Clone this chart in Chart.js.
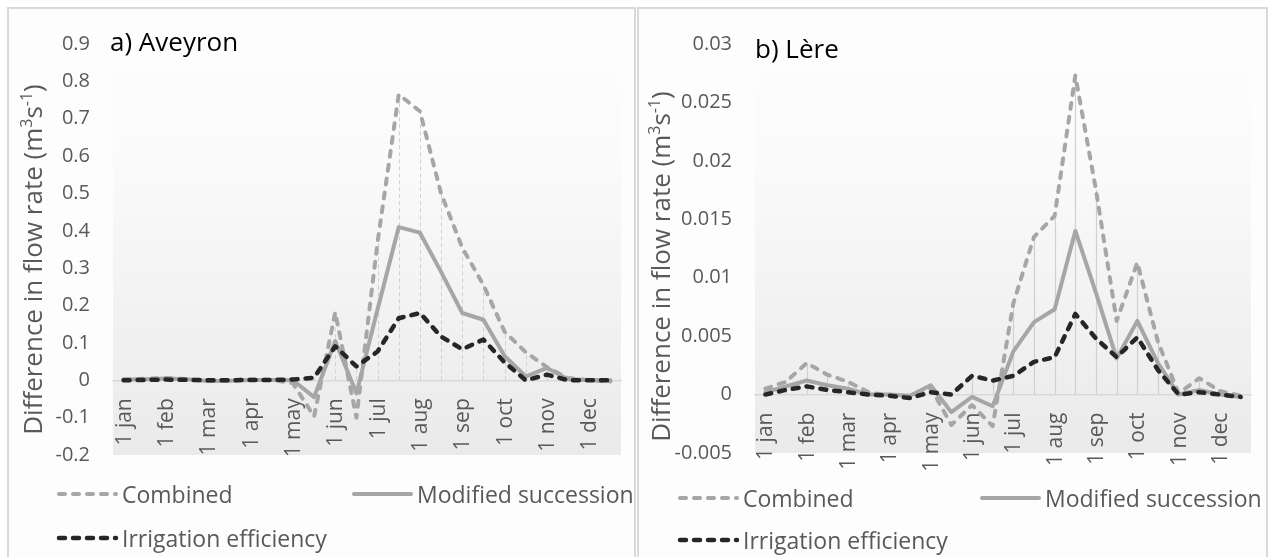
<!DOCTYPE html>
<html>
<head>
<meta charset="utf-8">
<script src="https://cdn.jsdelivr.net/npm/chart.js@4.4.0/dist/chart.umd.min.js"></script>
<style>
  body { margin: 0; background: #fff; width: 1268px; height: 557px; overflow: hidden; font-family: 'Open Sans', sans-serif; }
  .panel { position: absolute; top: 7px; height: 560px; border: 2px solid #d9d9d9; background: #fdfdfd; box-sizing: border-box; }
  #pa { left: 7px; width: 629px; }
  #pb { left: 637px; width: 631px; }
  canvas { position: absolute; left: 0; top: 0; }
  .legend { position: absolute; display: grid; font-size: 23px; color: #595959; }
  .item { display: flex; align-items: center; white-space: nowrap; }
  .item svg { margin-right: 2px; }
</style>
</head>
<body>
<div class="panel" id="pa">
  <canvas id="chartA" width="625" height="548"></canvas>
  <div class="legend" id="legA" style="left:47px; top:463px; grid-template-columns:295px auto; grid-auto-rows:44px;"></div>
</div>
<div class="panel" id="pb">
  <canvas id="chartB" width="627" height="548"></canvas>
  <div class="legend" id="legB" style="left:38px; top:468px; grid-template-columns:302px auto; grid-auto-rows:42px;"></div>
</div>
<script>
// categories: 1st and 15th of each month
const dates = ['1 jan', '15 jan', '1 feb', '15 feb', '1 mar', '15 mar', '1 apr', '15 apr',
  '1 may', '15 may', '1 jun', '15 jun', '1 jul', '15 jul', '1 aug', '15 aug',
  '1 sep', '15 sep', '1 oct', '15 oct', '1 nov', '15 nov', '1 dec', '15 dec'];

const seriesNames = ['Combined', 'Modified succession', 'Irrigation efficiency'];

// a) Aveyron
const aveyronCombined = [0.002, 0.004, 0.006, 0.003, -0.002, 0.0, 0.002, 0.001, -0.008, -0.097, 0.182, -0.1,
  0.37, 0.765, 0.72, 0.5, 0.355, 0.255, 0.13, 0.075, 0.035, 0.006, 0.0, -0.003];
const aveyronModified = [0.002, 0.003, 0.005, 0.003, -0.002, -0.001, 0.001, 0.001, 0.0, -0.045, 0.105, -0.035,
  0.19, 0.41, 0.395, 0.29, 0.18, 0.162, 0.065, 0.01, 0.033, 0.003, 0.001, 0.0];
const aveyronIrrigation = [0.0, 0.001, 0.002, 0.001, 0.0, 0.0, 0.001, 0.001, 0.002, 0.007, 0.091, 0.037,
  0.077, 0.166, 0.18, 0.117, 0.083, 0.109, 0.048, 0.0, 0.015, 0.0, 0.0, 0.0];
const aveyronTicks = { min: -0.2, max: 0.9, step: 0.1 };

// b) Lère
const lereCombined = [0.0005, 0.0011, 0.0027, 0.0017, 0.0011, 0.0002, -0.0001, -0.0003, 0.0006, -0.0026, -0.0009, -0.0027,
  0.0078, 0.0135, 0.0153, 0.0273, 0.0175, 0.0063, 0.0113, 0.0045, 0.0001, 0.0014, 0.0003, -0.0001];
const lereModified = [0.0002, 0.0007, 0.0012, 0.0008, 0.0005, 0.0, 0.0, -0.0001, 0.0008, -0.0015, -0.0002, -0.001,
  0.0037, 0.0062, 0.0073, 0.014, 0.0087, 0.0031, 0.0063, 0.0027, 0.0, 0.0004, 0.0, -0.0002];
const lereIrrigation = [0.0, 0.0004, 0.0007, 0.0004, 0.0002, 0.0, -0.0001, -0.0003, 0.0002, 0.0, 0.0016, 0.0012,
  0.0016, 0.0028, 0.0032, 0.0069, 0.0048, 0.0032, 0.0049, 0.0021, 0.0, 0.0002, 0.0, -0.0002];
const lereTicks = { min: -0.005, max: 0.03, step: 0.005 };

Chart.defaults.font.family = "'Open Sans', sans-serif";
Chart.defaults.color = '#595959';

// gradient fill of the plot area
const plotBg = {
  id: 'plotBg',
  beforeDraw(chart) {
    const { ctx, chartArea: a } = chart;
    const g = ctx.createLinearGradient(0, a.top, 0, a.bottom);
    g.addColorStop(0, '#fdfdfd');
    g.addColorStop(0.3, '#fafafa');
    g.addColorStop(1, '#eaeaea');
    ctx.save();
    ctx.fillStyle = g;
    ctx.fillRect(a.left, a.top, a.right - a.left, a.bottom - a.top);
    ctx.restore();
  }
};

// drop lines from the highest point down to zero, and the vertical month labels
const dropLines = {
  id: 'dropLines',
  beforeDatasetsDraw(chart, args, opts) {
    const { ctx } = chart;
    const xs = chart.scales.x, ys = chart.scales.y;
    const y0 = ys.getPixelForValue(0);
    ctx.save();
    ctx.strokeStyle = opts.color;
    ctx.lineWidth = opts.width;
    ctx.setLineDash(opts.dash);
    chart.data.labels.forEach((lab, i) => {
      const top = Math.max(...chart.data.datasets.map(d => d.data[i]));
      if (top <= 0) return;
      const px = Math.round(xs.getPixelForValue(i)) + 0.5;
      ctx.beginPath();
      ctx.moveTo(px, y0);
      ctx.lineTo(px, ys.getPixelForValue(top));
      ctx.stroke();
    });
    ctx.restore();

    // category labels, rotated to read bottom-to-top, hanging under the zero line
    ctx.save();
    ctx.fillStyle = '#595959';
    ctx.font = '21px "Open Sans"';
    ctx.textAlign = 'right';
    ctx.textBaseline = 'middle';
    chart.data.labels.forEach((lab, i) => {
      if (!lab.startsWith('1 ')) return;
      ctx.save();
      ctx.translate(xs.getPixelForValue(i), y0 + 18);
      ctx.rotate(-Math.PI / 2);
      ctx.fillText(lab, 0, 1);
      ctx.restore();
    });
    ctx.restore();
  }
};

// panel title and y axis title with superscripts
const texts = {
  id: 'texts',
  afterDraw(chart, args, opts) {
    const { ctx, chartArea: a } = chart;
    ctx.save();
    ctx.fillStyle = '#000';
    ctx.font = opts.titleSize + 'px "Open Sans"';
    ctx.textBaseline = 'middle';
    ctx.textAlign = 'left';
    ctx.fillText(opts.title, a.left + opts.titleDx, a.top + opts.titleDy);

    const parts = [['Difference in flow rate (m', 0], ['3', 1], ['s', 0], ['-1', 1], [')', 0]];
    const big = '26px "Open Sans"', small = '16px "Open Sans"';
    let total = 0;
    parts.forEach(p => { ctx.font = p[1] ? small : big; p.w = ctx.measureText(p[0]).width; total += p.w; });
    ctx.translate(opts.yTitleX, (a.top + a.bottom) / 2 + opts.yTitleDy);
    ctx.rotate(-Math.PI / 2);
    ctx.fillStyle = '#595959';
    ctx.textBaseline = 'alphabetic';
    let x = -total / 2;
    parts.forEach(p => {
      ctx.font = p[1] ? small : big;
      ctx.fillText(p[0], x, p[1] ? -1 : 9);
      x += p.w;
    });
    ctx.restore();
  }
};

function makeChart(canvasId, legendId, data, ticks, cfg) {
  const styles = [
    { color: '#a6a6a6', width: 4, dash: [6, 8] },
    { color: '#a6a6a6', width: 4, dash: [] },
    { color: '#262626', width: 4.5, dash: [6, 8] }
  ];
  const chart = new Chart(document.getElementById(canvasId), {
    type: 'line',
    data: {
      labels: dates,
      datasets: data.map((d, i) => ({
        label: seriesNames[i],
        data: d,
        borderColor: styles[i].color,
        borderWidth: styles[i].width,
        borderDash: styles[i].dash,
        borderCapStyle: 'round',
        borderJoinStyle: 'round',
        pointRadius: 0,
        tension: 0,
        order: 2 - i
      }))
    },
    options: {
      responsive: false,
      animation: false,
      layout: { padding: { left: 0, top: 34, right: cfg.padRight, bottom: cfg.padBottom } },
      plugins: {
        legend: { display: false },
        tooltip: { enabled: false },
        dropLines: cfg.drop,
        texts: cfg.texts
      },
      scales: {
        x: {
          type: 'category',
          offset: true,
          position: { y: 0 },
          grid: { display: false, drawTicks: false },
          border: { display: true, color: '#d9d9d9', width: 1.5 },
          ticks: { display: false }
        },
        y: {
          min: ticks.min,
          max: ticks.max,
          grid: { display: false, drawTicks: false },
          border: { display: false },
          afterFit(scale) { scale.width = cfg.yWidth; },
          ticks: {
            stepSize: ticks.step,
            padding: 23,
            font: { size: 20 },
            color: '#595959',
            callback: v => String(Math.round(v * 10000) / 10000)
          }
        }
      }
    },
    plugins: [plotBg, dropLines, texts]
  });

  const leg = document.getElementById(legendId);
  chart.data.datasets.forEach(ds => {
    const item = document.createElement('div');
    item.className = 'item';
    const dash = ds.borderDash.length ? ` stroke-dasharray="${ds.borderDash.join(' ')}"` : '';
    item.innerHTML = `<svg width="64" height="10"><line x1="3" y1="5" x2="60" y2="5" stroke="${ds.borderColor}" stroke-width="${ds.borderWidth}" stroke-linecap="round"${dash}/></svg><span>${ds.label}</span>`;
    leg.appendChild(item);
  });
  return chart;
}

makeChart('chartA', 'legA', [aveyronCombined, aveyronModified, aveyronIrrigation], aveyronTicks, {
  yWidth: 104, padRight: 13, padBottom: 102,
  drop: { color: '#d0d0d0', width: 1, dash: [4, 3] },
  texts: { title: 'a) Aveyron', titleSize: 26, titleDx: -3, titleDy: 0, yTitleX: 24, yTitleDy: 10 }
});

makeChart('chartB', 'legB', [lereCombined, lereModified, lereIrrigation], lereTicks, {
  yWidth: 116, padRight: 15, padBottom: 104,
  drop: { color: '#d0d0d0', width: 1.2, dash: [] },
  texts: { title: 'b) Lère', titleSize: 26, titleDx: 0, titleDy: 7, yTitleX: 22, yTitleDy: 18 }
});
</script>
</body>
</html>
